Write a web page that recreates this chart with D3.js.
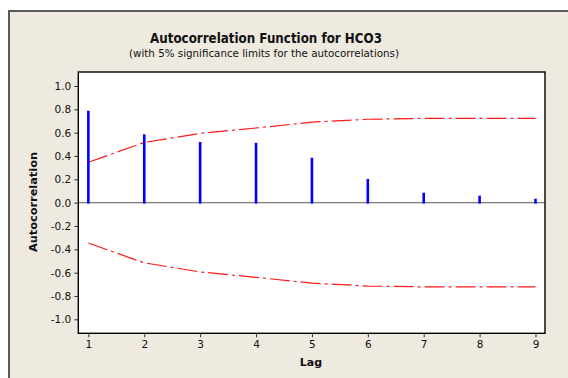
<!DOCTYPE html>
<html>
<head>
<meta charset="utf-8">
<script src="https://cdn.jsdelivr.net/npm/d3@7"></script>
<style>
  html, body { margin: 0; padding: 0; background: #ffffff; }
  svg { display: block; }
  text { font-family: Tahoma, "DejaVu Sans", sans-serif; fill: #111; }
</style>
</head>
<body>
<svg id="chart" width="568" height="378"></svg>
<script>
// Autocorrelation values by lag
const lags = [1, 2, 3, 4, 5, 6, 7, 8, 9];
const acf = [0.788, 0.586, 0.52, 0.513, 0.385, 0.203, 0.085, 0.060, 0.034];
// Upper 5% significance limit at each lag (lower limit is its mirror)
const upperLimit = [0.346, 0.516, 0.594, 0.64, 0.69, 0.715, 0.722, 0.722, 0.722];
const yTicks = [1.0, 0.8, 0.6, 0.4, 0.2, 0.0, -0.2, -0.4, -0.6, -0.8, -1.0];
const xTicks = [1, 2, 3, 4, 5, 6, 7, 8, 9];

const svg = d3.select("#chart");

// Outer panel
svg.append("rect")
  .attr("x", 9).attr("y", 11).attr("width", 570).attr("height", 380)
  .attr("fill", "#eeeae0").attr("stroke", "#5a5a5a").attr("stroke-width", 2);

const plot = { left: 78.3, right: 545, top: 72, bottom: 333.3 };

const x = d3.scaleLinear().domain([0.82, 9.17]).range([plot.left, plot.right]);
const y = d3.scaleLinear().domain([-1.12, 1.12]).range([plot.bottom, plot.top]);

// Plot area
svg.append("rect")
  .attr("x", plot.left).attr("y", plot.top)
  .attr("width", plot.right - plot.left).attr("height", plot.bottom - plot.top)
  .attr("fill", "#ffffff");

// Zero reference line
svg.append("line")
  .attr("x1", plot.left).attr("x2", plot.right)
  .attr("y1", y(0)).attr("y2", y(0))
  .attr("stroke", "#7a7a7a").attr("stroke-width", 1.3);

// Significance limits
const limitLine = d3.line().x(d => x(d[0])).y(d => y(d[1]));
const upperPts = lags.map((l, i) => [l, upperLimit[i]]);
const lowerPts = lags.map((l, i) => [l, -upperLimit[i]]);
[upperPts, lowerPts].forEach(pts => {
  svg.append("path")
    .attr("d", limitLine(pts))
    .attr("fill", "none")
    .attr("stroke", "#ff1a1a")
    .attr("stroke-width", 1.2)
    .attr("stroke-dasharray", "20,4,3,4");
});

// Autocorrelation spikes
svg.append("g").selectAll("line")
  .data(lags)
  .join("line")
  .attr("x1", d => x(d)).attr("x2", d => x(d))
  .attr("y1", y(0) + 1).attr("y2", (d, i) => y(acf[i]))
  .attr("stroke", "#0000ff").attr("stroke-width", 2.6);

// Plot frame
svg.append("rect")
  .attr("x", plot.left).attr("y", plot.top)
  .attr("width", plot.right - plot.left).attr("height", plot.bottom - plot.top)
  .attr("fill", "none").attr("stroke", "#000").attr("stroke-width", 1.4);

// Y axis
const yAxis = d3.axisLeft(y)
  .tickValues(yTicks)
  .tickFormat(d => d.toFixed(1))
  .tickSize(4)
  .tickSizeOuter(0)
  .tickPadding(3);
const gy = svg.append("g").attr("transform", `translate(${plot.left},0)`).call(yAxis);
gy.select(".domain").remove();
gy.selectAll("line").attr("stroke", "#333");
gy.selectAll("text").attr("font-size", "10.5px").attr("fill", "#111")
  .style("font-family", 'Tahoma, "DejaVu Sans", sans-serif');

// X axis
const xAxis = d3.axisBottom(x)
  .tickValues(xTicks)
  .tickFormat(d3.format("d"))
  .tickSize(4)
  .tickSizeOuter(0)
  .tickPadding(3);
const gx = svg.append("g").attr("transform", `translate(0,${plot.bottom})`).call(xAxis);
gx.select(".domain").remove();
gx.selectAll("line").attr("stroke", "#333");
gx.selectAll("text").attr("font-size", "10.5px").attr("fill", "#111")
  .style("font-family", 'Tahoma, "DejaVu Sans", sans-serif');

// Titles
svg.append("text")
  .attr("x", 266).attr("y", 43)
  .attr("text-anchor", "middle")
  .attr("font-size", "13.5px").attr("font-weight", "bold")
  .attr("textLength", 232).attr("lengthAdjust", "spacingAndGlyphs")
  .text("Autocorrelation Function for HCO3");

svg.append("text")
  .attr("x", 264).attr("y", 57)
  .attr("text-anchor", "middle")
  .attr("font-size", "11px")
  .attr("textLength", 270).attr("lengthAdjust", "spacingAndGlyphs")
  .text("(with 5% significance limits for the autocorrelations)");

svg.append("text")
  .attr("x", 311).attr("y", 366)
  .attr("text-anchor", "middle")
  .attr("font-size", "11px").attr("font-weight", "bold")
  .text("Lag");

svg.append("text")
  .attr("transform", "translate(37,202) rotate(-90)")
  .attr("text-anchor", "middle")
  .attr("font-size", "11px").attr("font-weight", "bold")
  .attr("textLength", 100).attr("lengthAdjust", "spacingAndGlyphs")
  .text("Autocorrelation");
</script>
</body>
</html>
